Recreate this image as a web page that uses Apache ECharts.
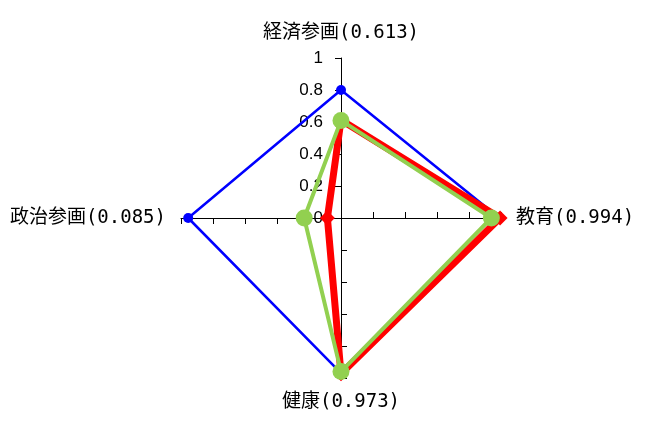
<!DOCTYPE html>
<html>
<head>
<meta charset="utf-8">
<script src="https://cdn.jsdelivr.net/npm/echarts@6/dist/echarts.min.js"></script>
<style>
  html, body { margin: 0; padding: 0; background: #fff; }
  #chart { width: 657px; height: 427px; }
</style>
</head>
<body>
<div id="chart"></div>
<script>
// indicators, counterclockwise from the top
var indicators = ['経済参画(0.613)', '政治参画(0.085)', '健康(0.973)', '教育(0.994)'];
var blueValues = [0.8, 0.955, 0.97, 0.99];
var redValues = [0.613, 0.085, 0.973, 0.994];
var greenValues = [0.61, 0.23, 0.96, 0.94];
var scaleTicks = [0, 0.2, 0.4, 0.6, 0.8, 1];

var chart = echarts.init(document.getElementById('chart'));

var option = {
    backgroundColor: '#ffffff',
    animation: false,
    // cartesian axis only used for the 0..1 scale labels on the top spoke
    grid: {left: 341, top: 58, height: 160, width: 100},
    xAxis: {type: 'value', show: false},
    yAxis: {
        type: 'value',
        min: scaleTicks[0],
        max: scaleTicks[scaleTicks.length - 1],
        interval: 0.2,
        axisLine: {show: false},
        axisTick: {show: false},
        splitLine: {show: false},
        axisLabel: {
            margin: 18,
            color: '#000',
            fontSize: 17,
            fontFamily: 'Liberation Sans',
            formatter: function (v) { return String(+v.toFixed(1)); }
        }
    },
    radar: {
        center: [341, 218],
        radius: 160,
        shape: 'polygon',
        splitNumber: 5,
        nameGap: 15,
        axisName: {
            color: '#000',
            fontSize: 19,
            fontFamily: '"DejaVu Sans Mono", "Noto Sans CJK JP"'
        },
        indicator: indicators.map(function (n) { return {name: n, min: 0, max: 1}; }),
        axisLine: {lineStyle: {color: '#000', width: 1}},
        axisTick: {show: true, length: 6, lineStyle: {color: '#000'}},
        axisLabel: {show: false},
        splitLine: {show: false},
        splitArea: {show: false}
    },
    series: [
        {
            type: 'radar',
            z: 2,
            data: [{
                value: blueValues,
                symbol: 'circle',
                symbolSize: 10,
                lineStyle: {color: '#0000ff', width: 2.5},
                itemStyle: {color: '#0000ff'}
            }]
        },
        {
            type: 'radar',
            z: 3,
            data: [{
                value: redValues,
                symbol: 'diamond',
                symbolSize: 15,
                lineStyle: {color: '#ff0000', width: 7},
                itemStyle: {color: '#ff0000'}
            }]
        },
        {
            type: 'radar',
            z: 4,
            data: [{
                value: greenValues,
                symbol: 'circle',
                symbolSize: 17,
                lineStyle: {color: '#92d050', width: 4},
                itemStyle: {color: '#92d050'}
            }]
        }
    ]
};

chart.setOption(option);
</script>
</body>
</html>
